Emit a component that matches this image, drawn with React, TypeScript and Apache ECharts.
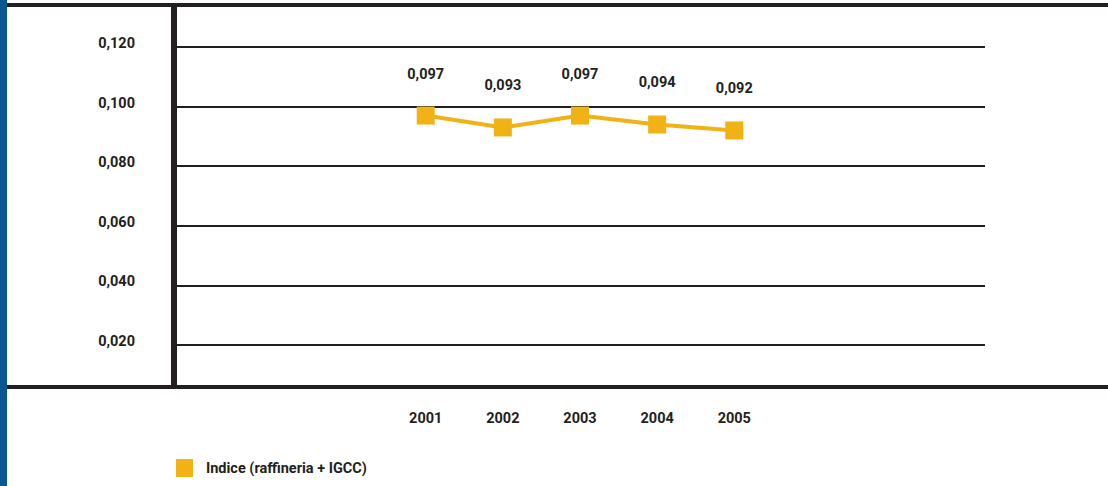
import React, { useEffect, useRef } from "react";
import * as echarts from "echarts";

const years = [2001, 2002, 2003, 2004, 2005];
const indexValues = [0.097, 0.093, 0.097, 0.094, 0.092];
const seriesName = "Indice (raffineria + IGCC)";
const yTicks = { min: 0, max: 0.12, step: 0.02 };

const FONT = "Roboto, sans-serif";
const FS = 14.5;
const INK = "#231f20";
const GOLD = "#f0b215";

const fmt = (v: number) => v.toFixed(3).replace(".", ",");

export default function App() {
  const ref = useRef<HTMLDivElement>(null);

  useEffect(() => {
    if (!ref.current) return;
    const chart = echarts.init(ref.current, undefined, { renderer: "svg" });
    const lineCount = Math.round((yTicks.max - yTicks.min) / yTicks.step) + 1;
    chart.setOption({
      animation: false,
      backgroundColor: "#ffffff",
      textStyle: { fontFamily: FONT },
      grid: { left: 177, right: 123, top: 47, bottom: 81.4, containLabel: false },
      xAxis: {
        type: "value",
        min: 1997.776,
        max: 2008.25,
        axisLine: { show: false },
        axisTick: { show: false },
        splitLine: { show: false },
        axisLabel: {
          customValues: years,
          formatter: (v: number) => String(Math.round(v)),
          margin: 6,
          color: INK,
          fontFamily: FONT,
          fontWeight: "bold",
          fontSize: FS,
        },
      },
      yAxis: {
        type: "value",
        min: yTicks.min,
        max: yTicks.max,
        interval: yTicks.step,
        axisLine: { show: false },
        axisTick: { show: false },
        splitLine: {
          show: true,
          showMinLine: false,
          lineStyle: { color: Array(lineCount).fill(INK), width: 2 },
        },
        axisLabel: {
          margin: 42,
          color: INK,
          fontFamily: FONT,
          fontWeight: "bold",
          fontSize: FS,
          verticalAlign: "middle",
          formatter: (v: number) => (v === 0 ? "" : "{t|" + fmt(v) + "}"),
          rich: {
            t: {
              color: INK,
              fontFamily: FONT,
              fontWeight: "bold",
              fontSize: FS,
              padding: [0, 0, 7, 0],
            },
          },
        },
      },
      legend: {
        left: 176,
        top: 459,
        padding: 0,
        itemWidth: 17,
        itemHeight: 18,
        itemGap: 20,
        icon: "rect",
        textStyle: { color: INK, fontFamily: FONT, fontWeight: "bold", fontSize: FS, padding: [0, 0, 0, 8] },
        data: [{ name: seriesName, itemStyle: { color: GOLD } }],
      },
      series: [
        {
          name: seriesName,
          type: "line",
          data: years.map((y, i) => [y, indexValues[i]]),
          symbol: "rect",
          symbolSize: 18,
          lineStyle: { color: GOLD, width: 4 },
          itemStyle: { color: GOLD },
          z: 5,
          label: {
            show: true,
            position: "top",
            distance: 25,
            color: INK,
            fontFamily: FONT,
            fontWeight: "bold",
            fontSize: FS,
            formatter: (p: any) => fmt(p.value[1]),
          },
        },
      ],
      graphic: [
        { type: "rect", shape: { x: 0, y: 0, width: 7, height: 486 }, style: { fill: "#0b5890" }, silent: true },
        { type: "rect", shape: { x: 7, y: 3, width: 1101, height: 4 }, style: { fill: INK }, silent: true },
        { type: "rect", shape: { x: 7, y: 385, width: 1101, height: 4 }, style: { fill: INK }, silent: true },
        { type: "rect", shape: { x: 171, y: 5, width: 6, height: 383 }, style: { fill: INK }, silent: true },
      ],
    });
    return () => chart.dispose();
  }, []);

  return (
    <div
      ref={ref}
      style={{ position: "fixed", left: 0, top: 0, width: 1108, height: 486 }}
    />
  );
}
